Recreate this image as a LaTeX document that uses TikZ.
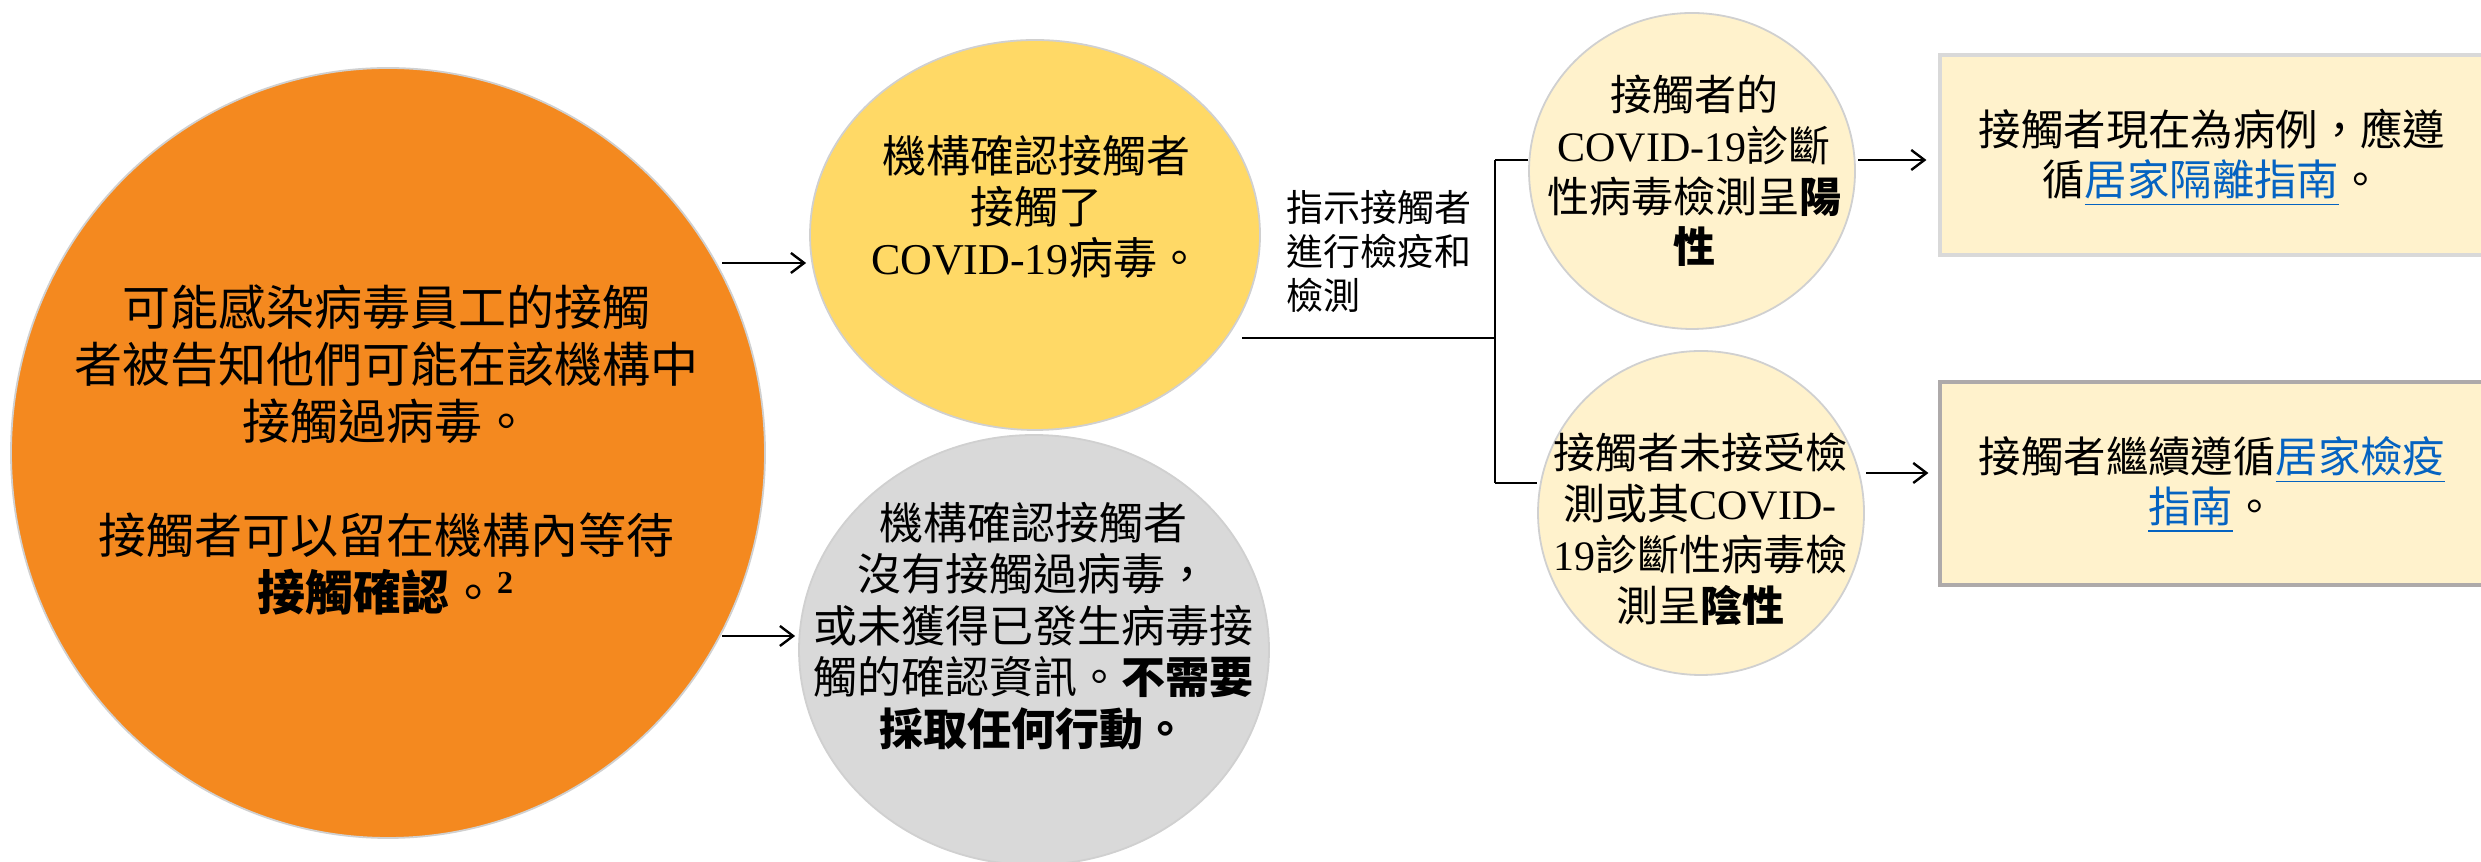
\documentclass[tikz,border=0pt]{standalone}
\usepackage{fontspec}
\setmainfont{Noto Sans CJK TC}
\newfontfamily\lat{Liberation Serif}
\usetikzlibrary{arrows.meta,shapes.geometric}
\definecolor{orangec}{HTML}{F4891F}
\definecolor{yellowc}{HTML}{FFD966}
\definecolor{grayc}{HTML}{D9D9D9}
\definecolor{paleyc}{HTML}{FFF2CC}
\definecolor{rimc}{HTML}{D0D0D0}
\definecolor{boxrim}{HTML}{D9D9D9}
\definecolor{boxrimdark}{HTML}{AEAAAA}
\definecolor{linkc}{HTML}{0563C1}
\newcommand{\lnk}[1]{{\color{linkc}\underline{#1}}}
\tikzset{
  ell/.style={ellipse, draw=rimc, line width=0.45pt, inner sep=0pt},
  boxn/.style={rectangle, fill=paleyc, line width=0.8pt, inner sep=0pt},
  txt/.style={inner sep=0pt, align=center, text=black},
  conn/.style={line width=0.55pt, draw=black},
  arr/.style={conn, -{Straight Barb[length=3.3pt,width=5pt,line width=0.6pt]}},
}
\begin{document}
\begin{tikzpicture}[x=0.25pt,y=-0.25pt]
\useasboundingbox (0,0) rectangle (2481,862);
\clip (0,0) rectangle (2481,862);

% shapes
\node[ell, fill=orangec, minimum width=188.5pt, minimum height=192.5pt] (orange) at (388,453) {};
\node[ell, fill=yellowc, minimum width=112.5pt, minimum height=97.5pt] (yellow) at (1035,235) {};
\node[ell, fill=grayc, minimum width=117.5pt, minimum height=107.5pt] (gray) at (1034,650) {};
\node[ell, fill=paleyc, minimum width=81.5pt, minimum height=79pt] (pos) at (1692,171) {};
\node[ell, fill=paleyc, minimum width=81.5pt, minimum height=81pt] (neg) at (1701,513) {};
\node[boxn, draw=boxrim, minimum width=137.5pt, minimum height=50pt] (box1) at (2215,155) {};
\node[boxn, draw=boxrimdark, minimum width=137.5pt, minimum height=50.75pt] (box2) at (2215,483.5) {};

% texts
\node[txt, font=\fontsize{12pt}{14.25pt}\selectfont] (torange) at (386,450)
 {可能感染病毒員工的接觸\\者被告知他們可能在該機構中\\接觸過病毒。\\[14.25pt]
  接觸者可以留在機構內等待\\\textbf{接觸確認}。\textsuperscript{\lat\bfseries 2}};
\node[txt, font=\fontsize{11pt}{12.75pt}\selectfont] (tyellow) at (1036,207)
 {機構確認接觸者\\接觸了\\{\lat COVID-19}病毒。};
\node[txt, font=\fontsize{11pt}{12.9pt}\selectfont] (tgray) at (1033,626)
 {機構確認接觸者\\沒有接觸過病毒，\\或未獲得已發生病毒接\\觸的確認資訊。\textbf{不需要}\\\textbf{採取任何行動。}};
\node[txt, anchor=west, align=left, font=\fontsize{9.25pt}{11pt}\selectfont] (tlabel) at (1286,251)
 {指示接觸者\\進行檢疫和\\檢測};
\node[txt, font=\fontsize{10.5pt}{12.7pt}\selectfont] (tpos) at (1694,171)
 {接觸者的\\{\lat COVID-19}診斷\\性病毒檢測呈\textbf{陽}\\\textbf{性}};
\node[txt, font=\fontsize{10.5pt}{12.75pt}\selectfont] (tneg) at (1700,529)
 {接觸者未接受檢\\測或其{\lat COVID-}\\{\lat 19}診斷性病毒檢\\測呈\textbf{陰性}};
\node[txt, font=\fontsize{10.6pt}{12.5pt}\selectfont] (tbox1) at (2212,158)
 {接觸者現在為病例，應遵\\循\lnk{居家隔離指南}。};
\node[txt, font=\fontsize{10.6pt}{12.5pt}\selectfont] (tbox2) at (2212,485)
 {接觸者繼續遵循\lnk{居家檢疫}\\\lnk{指南}。};

% connector points
\coordinate (a1) at (722,263);
\coordinate (a2) at (722,636);
\coordinate (ys) at (1242,338);
\coordinate (sp) at (1495,338);
\coordinate (b1) at (1495,160);
\coordinate (b2) at (1495,483);
\coordinate (c1) at (1858,160);
\coordinate (c2) at (1866,473);

% connectors
\draw[arr, shorten >=0.75pt] (a1) -- (a1 -| yellow.west);
\draw[arr, shorten >=0.75pt] (a2) -- (a2 -| gray.west);
\draw[conn] (ys) -- (sp);
\draw[conn] (b1) -- (b2);
\draw[conn] (b1) -- (b1 -| pos.west);
\draw[conn] (b2) -- (b2 -| neg.west);
\draw[arr, shorten >=3pt] (c1) -- (c1 -| box1.west);
\draw[arr, shorten >=2.5pt] (c2) -- (c2 -| box2.west);
\end{tikzpicture}
\end{document}
